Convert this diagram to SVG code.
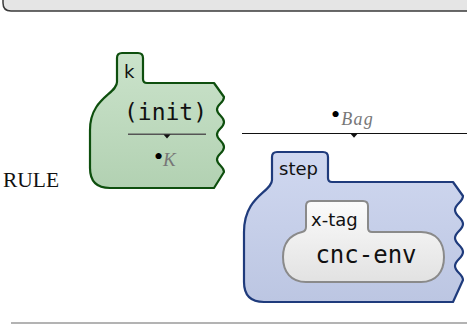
<svg xmlns="http://www.w3.org/2000/svg" width="467" height="324" viewBox="0 0 467 324">
<defs>
<linearGradient id="gGreen" x1="0" y1="0" x2="0" y2="1"><stop offset="0" stop-color="#cbe3cb"/><stop offset="1" stop-color="#b2d1b2"/></linearGradient>
<linearGradient id="gBlue" x1="0" y1="0" x2="0" y2="1"><stop offset="0" stop-color="#d0d8f0"/><stop offset="1" stop-color="#bcc6e2"/></linearGradient>
<linearGradient id="gWhite" x1="0" y1="0" x2="0" y2="1"><stop offset="0" stop-color="#fbfbfb"/><stop offset="1" stop-color="#e2e2e2"/></linearGradient>
</defs>
<style>
.green{fill:url(#gGreen);stroke:#0e4f0e;stroke-width:2.2;stroke-linejoin:round}
.blue{fill:url(#gBlue);stroke:#1f3b7c;stroke-width:2.2;stroke-linejoin:round}
.white{fill:url(#gWhite);stroke:#8a8a8a;stroke-width:2;stroke-linejoin:round}
.lbl{font-family:"DejaVu Sans",sans-serif;font-size:18px;fill:#111}
.mono{font-family:"DejaVu Sans Mono",monospace;fill:#111}
.math{font-family:"Liberation Serif",serif;font-style:italic;fill:#777}
.dot{fill:#000;font-style:normal;font-size:26px}
</style>
<path d="M3,-3 L3,3 Q3,11 11,11 L470,11 L470,-3 Z" fill="#e5e5e5" stroke="#3a3a3a" stroke-width="1.5"/>
<line x1="11" y1="323" x2="467" y2="323" stroke="#9a9a9a" stroke-width="1.6"/>
<text x="3" y="187" font-family="Liberation Serif,serif" font-size="21.5" fill="#111">RULE</text>
<g id="cell-k">
<path class="green" d="M117,58 Q117,53 122,53 L138,53 Q143,53 143,58 L143,79 Q143,83 147,83 L214,83 L224,97 C224,103 217,104 217,109.5 C217,115 224,116 224,122 C224,128 217,129 217,134.5 C217,140 224,141 224,147 C224,153 217,154 217,159.5 C217,165 224,166 224,172 L214,188 L110,188 Q90,188 90,168 L90,130 C90,98 117,94 117,82 Z"/>
<text class="lbl" x="124" y="78">k</text>
<text class="mono" x="165.5" y="120" font-size="23" text-anchor="middle">(init)</text>
<line x1="128" y1="134.3" x2="206" y2="134.3" stroke="#555" stroke-width="1.5"/>
<path d="M163.5,134.5 L170.5,134.5 L167,138.5 Z" fill="#111"/>
<text class="math" x="154" y="166" font-size="19"><tspan class="dot" dy="-1">•</tspan><tspan dy="1">K</tspan></text>
</g>
<g id="connectors">
<line x1="242" y1="133.5" x2="467" y2="133.5" stroke="#111" stroke-width="1.2"/>
<path d="M350.5,133.8 L357.5,133.8 L354,137.8 Z" fill="#111"/>
<text class="math" x="331" y="125" font-size="18" letter-spacing="1.2"><tspan class="dot" dy="-2">•</tspan><tspan dy="2">Bag</tspan></text>
</g>
<g id="cell-step">
<path class="blue" d="M272,157 Q272,152 277,152 L323,152 Q328,152 328,157 L328,178 Q328,182 332,182 L453,182 L463,196 C463,202 455,204 455,210 C455,216 463,218 463,224 C463,230 455,232 455,238 C455,244 463,246 463,252 C463,258 455,260 455,266 C455,272 463,274 463,280 L453,302 L264,302 Q244,302 244,282 L244,232 C244,196 272,192 272,180 Z"/>
<text class="lbl" x="279" y="175">step</text>
</g>
<g id="cell-xtag">
<path class="white" d="M306,206 Q306,201 311,201 L363,201 Q368,201 368,206 L368,228 Q368,232 372,232 L421,232 C436,232 444,242 444,257 C444,272 436,282 421,282 L306,282 C291,282 283,272 283,257 C283,240 294,234 302,232 Q306,231 306,227 Z"/>
<text class="lbl" x="311" y="226">x-tag</text>
<text class="mono" x="366" y="263" font-size="24" text-anchor="middle">cnc-env</text>
</g>
</svg>
